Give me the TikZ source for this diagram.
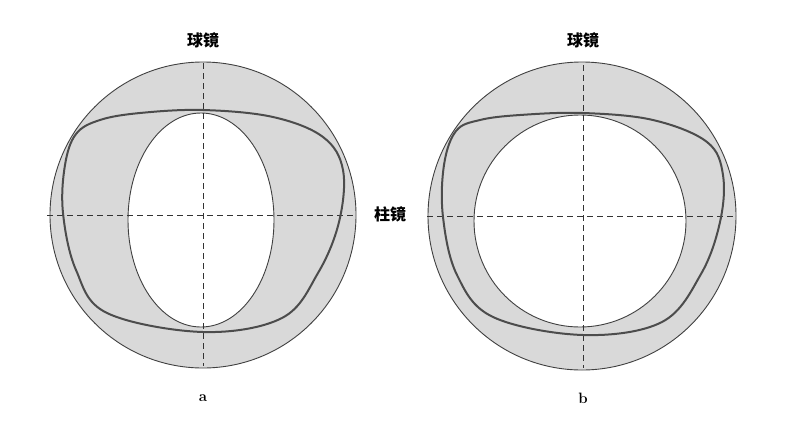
\documentclass[tikz,border=0pt]{standalone}
\usepackage{fontspec}
\newfontfamily\cjk{Noto Sans CJK SC}
\begin{document}
\begin{tikzpicture}[x=1pt,y=-1pt]

\tikzset{lensring/.style={fill=gray!30,draw=black!75,line width=0.9pt,even odd rule},}
\tikzset{axisline/.style={dash pattern=on 6pt off 4pt,black!80,line width=0.8pt},}
\tikzset{frame/.style={draw=black!70,line width=2pt},}
\tikzset{cjklabel/.style={font=\cjk\bfseries\fontsize{16}{16}\selectfont,inner sep=1pt},}
\tikzset{caselabel/.style={font=\bfseries\fontsize{15}{15}\selectfont,inner sep=1pt},}

\useasboundingbox (0,0) rectangle (792,426);

%LENTE A
\path[lensring] (203,215) circle (153) (201,220) ellipse (73 and 107);
\draw[axisline] (203,63) coordinate (topa) -- (203,366) coordinate (bota);
\draw[axisline] (47,215) coordinate (lefta) -- (355,215) coordinate (righta);
\draw[frame] plot[smooth cycle,tension=0.6] coordinates {(63,213) (65,165) (76,134) (100,120) (140,113) (203,110) (273,117) (323,137) (343,170) (339,222) (318,273) (282,318) (203,332) (107,313) (76,270)};
\node[cjklabel] (sfa) at (203,40) {球镜};
\node[caselabel] (a) at (203,398) {a};

%LENTE B
\path[lensring] (582,216) circle (154) (580,221) circle (106);
\draw[axisline] (583,65) coordinate (topb) -- (583,368) coordinate (botb);
\draw[axisline] (427,216) coordinate (leftb) -- (735,216) coordinate (rightb);
\draw[frame] plot[smooth cycle,tension=0.6] coordinates {(443,217) (444,165) (456,131) (480,120) (520,115) (583,113) (653,120) (707,142) (723,175) (720,222) (701,274) (662,322) (583,335) (493,317) (457,275)};
\node[cjklabel,fill=white] (cyl) at (390,214) {柱镜};
\node[cjklabel] (sfb) at (583,40) {球镜};
\node[caselabel] (b) at (583,398) {b};

\end{tikzpicture}
\end{document}
